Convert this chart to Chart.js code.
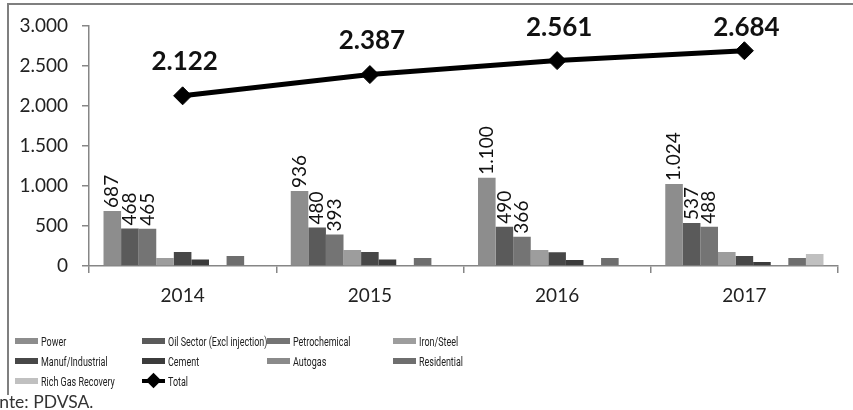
<!DOCTYPE html>
<html>
<head>
<meta charset="utf-8">
<script src="https://cdn.jsdelivr.net/npm/chart.js@4/dist/chart.umd.min.js"></script>
<style>
  html, body { margin: 0; padding: 0; background: #fff; overflow: hidden; }
  body { width: 853px; height: 410px; position: relative; font-family: Lato, sans-serif; }
  #frame {
    position: absolute; left: 7px; top: 3px; width: 860px; height: 390px;
    border-top: 2px solid #7f7f7f; border-left: 2px solid #7f7f7f;
  }
  #chart { position: absolute; left: 0; top: 0; }
  #legend { position: absolute; left: 0; top: 0; width: 853px; height: 410px; pointer-events: none; }
  .leg-item { position: absolute; height: 14px; display: flex; align-items: center; }
  .leg-box { width: 23px; height: 6px; margin-right: 3px; flex: none; }
  .leg-text {
    font-family: Roboto, sans-serif; font-size: 13px; color: #222;
    transform: scaleX(0.69); transform-origin: left center; white-space: nowrap;
  }
  .leg-line { position: relative; width: 23px; height: 4px; background: #000; margin-right: 3px; flex: none; }
  .leg-line::after {
    content: ""; position: absolute; left: 6px; top: -4px; width: 11px; height: 11px;
    background: #000; transform: rotate(45deg);
  }
  #source {
    position: absolute; left: -29px; top: 391px; font-family: Lato, sans-serif;
    font-size: 17.5px; color: #333; white-space: nowrap;
  }
</style>
</head>
<body>
<div id="frame"></div>
<canvas id="chart" width="853" height="320"></canvas>
<div id="legend"></div>
<div id="source">Fuente: PDVSA.</div>
<script>
// ===== Data =====
const years = ["2014", "2015", "2016", "2017"];
const power = [687, 936, 1100, 1024];
const oilSector = [468, 480, 490, 537];
const petrochemical = [465, 393, 366, 488];
const ironSteel = [100, 200, 200, 175];
const manufIndustrial = [175, 175, 170, 125];
const cement = [80, 80, 75, 50];
const autogas = [0, 0, 0, 0];
const residential = [125, 100, 100, 100];
const richGasRecovery = [0, 0, 0, 150];
const totals = [2122, 2387, 2561, 2684];
const yTicks = [0, 500, 1000, 1500, 2000, 2500, 3000];

const seriesNames = [
  "Power", "Oil Sector (Excl injection)", "Petrochemical", "Iron/Steel",
  "Manuf/Industrial", "Cement", "Autogas", "Residential", "Rich Gas Recovery",
];
const seriesValues = [
  power, oilSector, petrochemical, ironSteel,
  manufIndustrial, cement, autogas, residential, richGasRecovery,
];
const seriesColors = [
  "#8d8d8d", "#5a5a5a", "#747474", "#9d9d9d",
  "#474747", "#3b3b3b", "#8a8a8a", "#6e6e6e", "#c0c0c0",
];
const labelledSeries = 3; // first three bar series get rotated value labels

// dotted thousands, like "2.122"
function fmt(v) {
  return String(v).replace(/\B(?=(\d{3})+(?!\d))/g, ".");
}

const AXIS = "#868686";
const TEXT = "#222";

// ===== Labels plugin =====
const labelsPlugin = {
  id: "valueLabels",
  afterDatasetsDraw(chart) {
    const ctx = chart.ctx;
    ctx.save();
    ctx.fillStyle = "#111";

    // rotated bar labels
    ctx.font = "19px Lato, sans-serif";
    ctx.textAlign = "left";
    ctx.textBaseline = "middle";
    for (let d = 0; d < labelledSeries; d++) {
      const meta = chart.getDatasetMeta(d);
      meta.data.forEach((bar, i) => {
        ctx.save();
        ctx.translate(bar.x, bar.y - 3);
        ctx.rotate(-Math.PI / 2);
        ctx.fillText(fmt(chart.data.datasets[d].data[i]), 0, 0);
        ctx.restore();
      });
    }

    // total labels
    const lineIdx = chart.data.datasets.length - 1;
    const lineMeta = chart.getDatasetMeta(lineIdx);
    ctx.font = "bold 26px Lato, sans-serif";
    ctx.textAlign = "center";
    ctx.textBaseline = "middle";
    lineMeta.data.forEach((pt, i) => {
      const y = Math.max(pt.y - 34, 28);
      ctx.fillText(fmt(chart.data.datasets[lineIdx].data[i]), pt.x + 2, y);
    });
    ctx.restore();
  },
};

// ===== Chart =====
const datasets = seriesNames.map((name, i) => ({
  type: "bar",
  label: name,
  data: seriesValues[i],
  backgroundColor: seriesColors[i],
  borderWidth: 0,
  categoryPercentage: 0.845,
  barPercentage: 1.0,
  order: 1,
}));
datasets.push({
  type: "line",
  label: "Total",
  data: totals,
  borderColor: "#000",
  backgroundColor: "#000",
  borderWidth: 5,
  pointStyle: "rectRot",
  pointRadius: 9,
  pointBorderWidth: 1,
  pointBackgroundColor: "#000",
  tension: 0,
  order: 0,
});

new Chart(document.getElementById("chart").getContext("2d"), {
  data: { labels: years, datasets },
  options: {
    responsive: false,
    animation: false,
    devicePixelRatio: 1,
    layout: { padding: { left: 0, right: 15, top: 25, bottom: 0 } },
    plugins: {
      legend: { display: false },
      tooltip: { enabled: false },
    },
    scales: {
      x: {
        offset: true,
        grid: {
          offset: true,
          drawOnChartArea: false,
          drawTicks: true,
          tickLength: 7,
          color: AXIS,
          lineWidth: 1.5,
        },
        border: { color: AXIS, width: 1.5 },
        ticks: { color: TEXT, font: { family: "Lato", size: 19 }, padding: 11 },
        afterFit(scale) { scale.height = 54; },
      },
      y: {
        min: 0,
        max: 3000,
        afterBuildTicks(scale) { scale.ticks = yTicks.map((v) => ({ value: v })); },
        grid: {
          drawOnChartArea: false,
          drawTicks: true,
          tickLength: 7,
          color: AXIS,
          lineWidth: 1.5,
        },
        border: { color: AXIS, width: 1.5 },
        ticks: {
          color: TEXT,
          font: { family: "Lato", size: 19 },
          padding: 14,
          callback: (v) => fmt(v),
        },
        afterFit(scale) { scale.width = 89; },
      },
    },
  },
  plugins: [labelsPlugin],
});

// ===== Legend (HTML, 4-column grid) =====
const legend = document.getElementById("legend");
const colX = [15, 142, 267, 393];
const rowY = [334, 354, 374];
const legendNames = seriesNames.concat(["Total"]);
legendNames.forEach((name, i) => {
  const item = document.createElement("div");
  item.className = "leg-item";
  item.style.left = colX[i % 4] + "px";
  item.style.top = rowY[Math.floor(i / 4)] + "px";
  const sw = document.createElement("div");
  if (i < seriesColors.length) {
    sw.className = "leg-box";
    sw.style.background = seriesColors[i];
  } else {
    sw.className = "leg-line";
  }
  const tx = document.createElement("span");
  tx.className = "leg-text";
  tx.textContent = name;
  item.appendChild(sw);
  item.appendChild(tx);
  legend.appendChild(item);
});
</script>
</body>
</html>
